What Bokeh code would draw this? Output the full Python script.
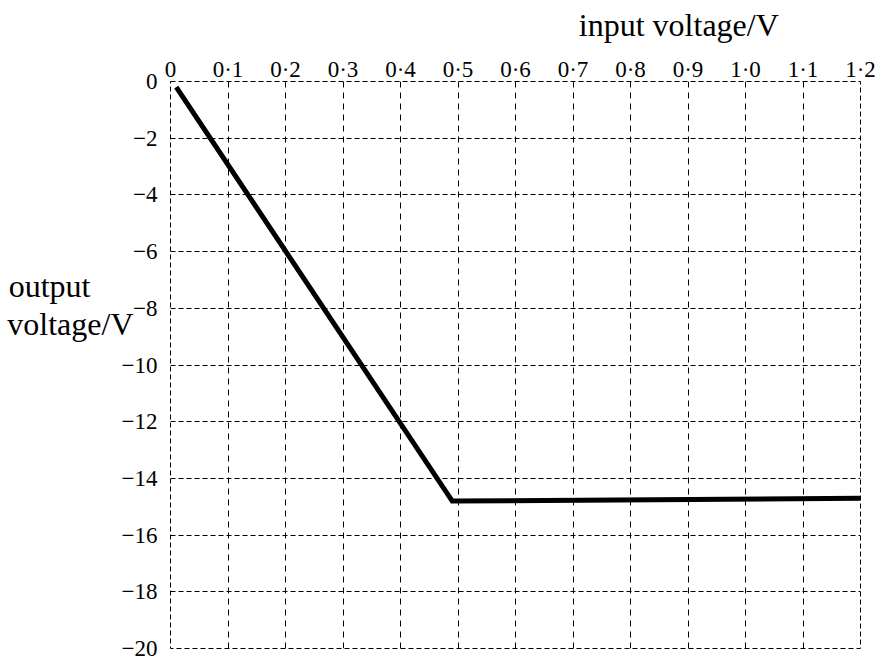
from bokeh.plotting import figure
from bokeh.models import Range1d, FixedTicker, LinearAxis
from bokeh.embed import file_html
from bokeh.resources import INLINE

# data
input_voltage = [0.01, 0.49, 1.2]
output_voltage = [-0.2, -14.8, -14.7]

x_ticks = [0.0, 0.1, 0.2, 0.3, 0.4, 0.5, 0.6, 0.7, 0.8, 0.9, 1.0, 1.1, 1.2]
x_tick_labels = ["0", "0·1", "0·2", "0·3", "0·4", "0·5", "0·6", "0·7", "0·8", "0·9", "1·0", "1·1", "1·2"]
y_ticks = [0, -2, -4, -6, -8, -10, -12, -14, -16, -18, -20]
y_tick_labels = ["0", "\u22122", "\u22124", "\u22126", "\u22128", "\u221210", "\u221212", "\u221214", "\u221216", "\u221218", "\u221220"]

x_title = "input voltage/V"
y_title_lines = ["output", "voltage/V"]

FONT = "Liberation Serif, Times New Roman, serif"


def style_axis(ax, ticks, labels, size, standoff):
    ax.ticker = FixedTicker(ticks=ticks)
    ax.major_label_overrides = {t: l for t, l in zip(ticks, labels)}
    ax.axis_line_color = None
    ax.major_tick_line_color = None
    ax.minor_tick_line_color = None
    ax.major_tick_out = 0
    ax.major_tick_in = 0
    ax.minor_tick_out = 0
    ax.minor_tick_in = 0
    ax.major_label_text_font = FONT
    ax.major_label_text_font_size = size
    ax.major_label_text_color = "black"
    ax.major_label_standoff = standoff


p = figure(width=876, height=662, output_backend="svg", toolbar_location=None,
           x_range=Range1d(0, 1.2), y_range=Range1d(-20, 0),
           x_axis_location="above",
           min_border_left=170, min_border_right=16, min_border_top=81, min_border_bottom=14)

p.outline_line_color = "black"
p.outline_line_dash = "5 3"
p.outline_line_width = 1

style_axis(p.xaxis[0], x_ticks, x_tick_labels, "23px", 0)
style_axis(p.yaxis[0], y_ticks, y_tick_labels, "23px", 13)

# axis titles, placed as single tick labels of extra axes
xt = LinearAxis()
style_axis(xt, [0.884], [x_title], "32px", 11)
p.add_layout(xt, "above")

yt1 = LinearAxis()
style_axis(yt1, [-8.55], [y_title_lines[1]], "32px", -15)
p.add_layout(yt1, "left")

yt2 = LinearAxis()
style_axis(yt2, [-7.2], [y_title_lines[0]], "32px", -86)
p.add_layout(yt2, "left")

p.xgrid.ticker = FixedTicker(ticks=x_ticks)
p.ygrid.ticker = FixedTicker(ticks=y_ticks)
p.xgrid.grid_line_color = "black"
p.ygrid.grid_line_color = "black"
p.xgrid.grid_line_dash = "6 5"
p.ygrid.grid_line_dash = "5 3"
p.xgrid.grid_line_width = 1
p.ygrid.grid_line_width = 1

p.line(input_voltage, output_voltage, line_color="black", line_width=5, line_join="miter")

open("out.html", "w").write(file_html(p, INLINE))
